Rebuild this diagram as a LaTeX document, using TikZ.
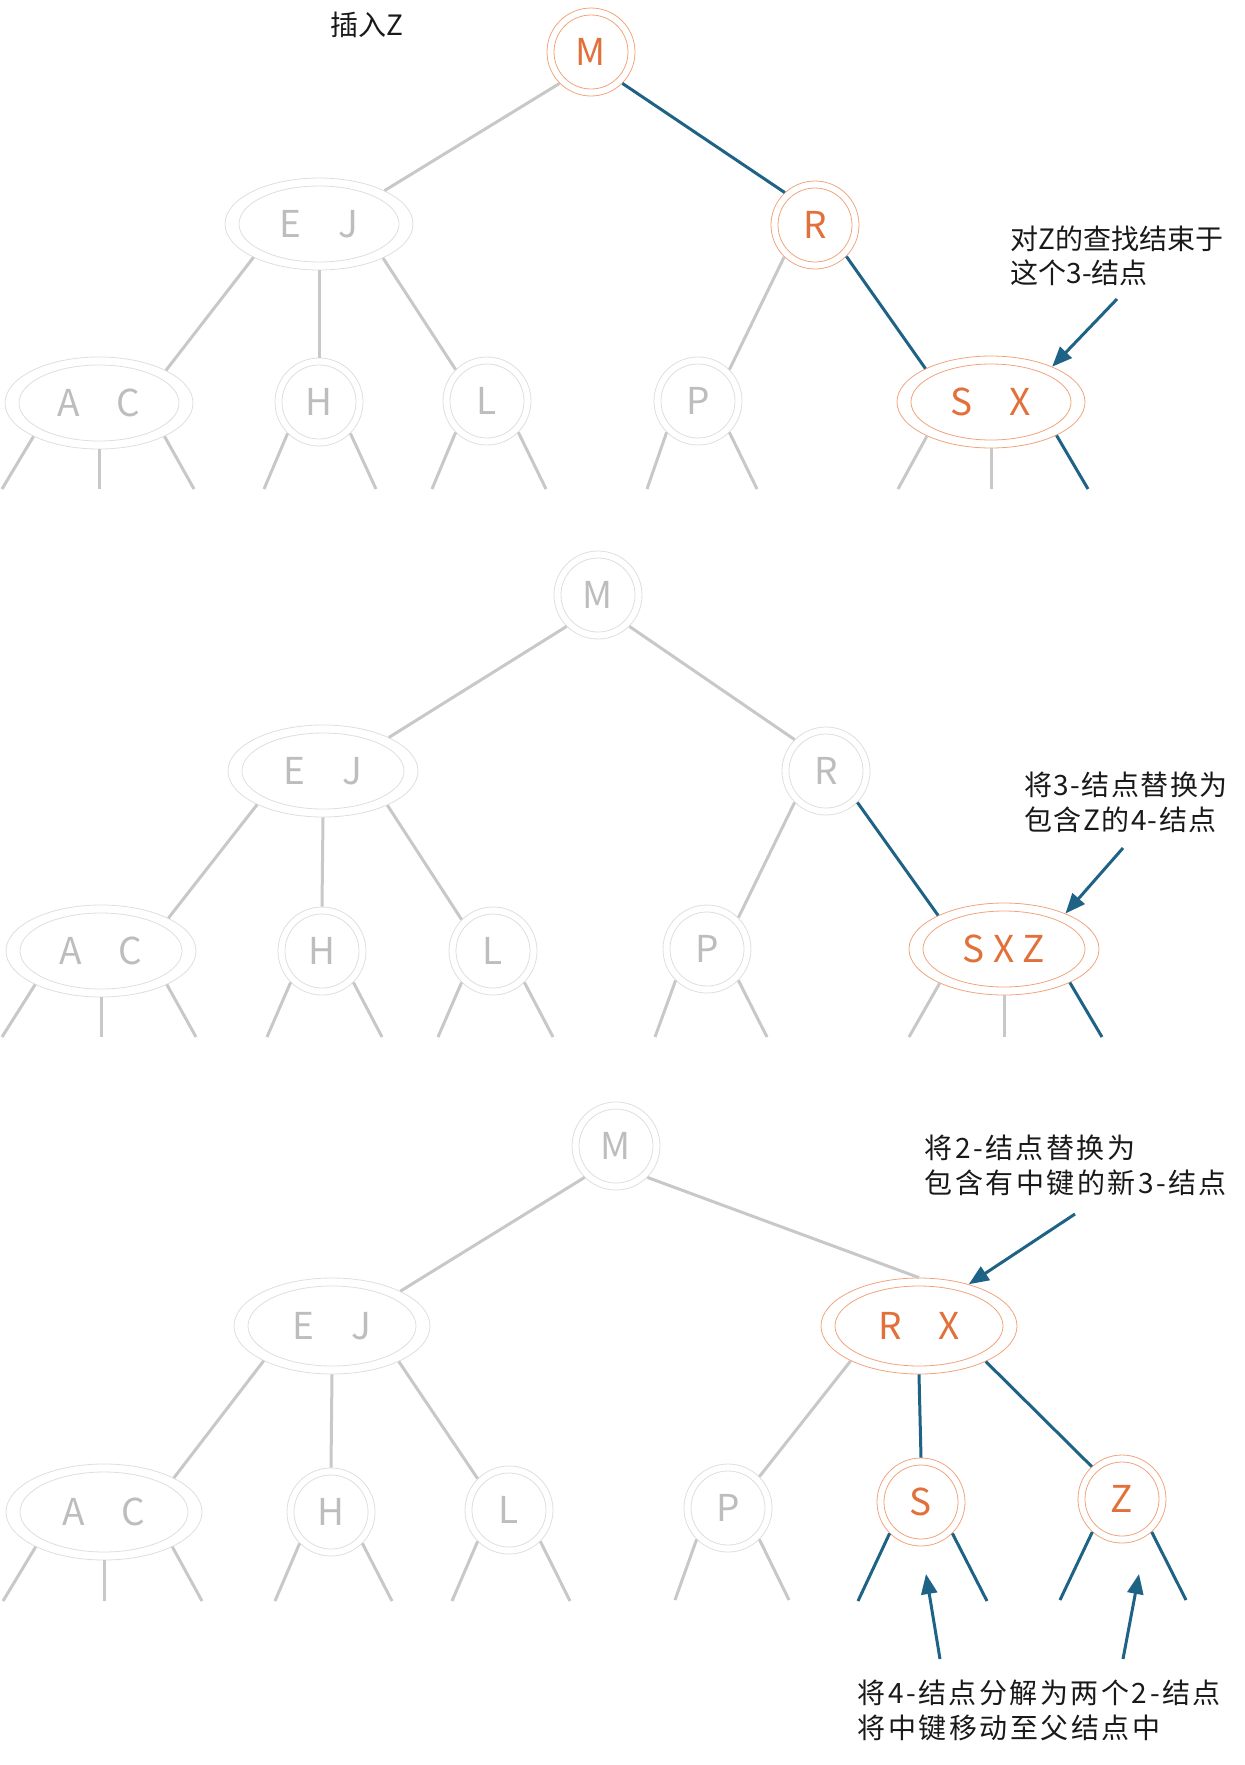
\documentclass[tikz,border=0pt]{standalone}
\usepackage{fontspec}
\setmainfont{Noto Sans CJK SC}
\usetikzlibrary{shapes.geometric,arrows.meta,calc}

\definecolor{orTxt}{HTML}{E2703A}
\definecolor{orLn}{HTML}{F0A47E}
\definecolor{gLn}{HTML}{DEDEDE}
\definecolor{gTxt}{HTML}{BDBDBD}
\definecolor{gEdge}{HTML}{C8C8C8}
\definecolor{blu}{HTML}{1E6385}

\tikzset{
 keyfont/.style={font=\fontsize{37}{37}\selectfont},
 gcirc/.style={circle, draw=gLn, line width=0.8pt, minimum size=88pt, inner sep=0pt, text=gTxt, keyfont},
 ocirc/.style={gcirc, draw=orLn, text=orTxt},
 gell/.style={ellipse, draw=gLn, line width=0.8pt, inner sep=0pt, text=gTxt, keyfont},
 oell/.style={gell, draw=orLn, text=orTxt},
 ginner/.style={draw=gLn, line width=0.8pt},
 oinner/.style={draw=orLn, line width=0.8pt},
 gedge/.style={draw=gEdge, line width=3pt},
 bedge/.style={draw=blu, line width=3pt},
 callout/.style={draw=blu, line width=3pt, -{Triangle[length=20pt,width=16pt]}},
 lbl/.style={align=left, anchor=west, text=black!90, font=\fontsize{28}{34}\selectfont},
 lblsp/.style={align=left, anchor=west, text=black!90, font=\fontsize{28}{35}\selectfont\addfontfeatures{LetterSpace=9}},
}

\newcommand\CircNode[4]{%
 \node[#1circ] (#2) at (#3) {#4};
 \draw[#1inner] (#2.center) circle[radius=37pt];}
\newcommand\EllNode[6]{%
 \node[#1ell, minimum width=2*#5pt, minimum height=2*#6pt] (#2) at (#3) {#4};
 \pgfmathsetmacro\ixr{#5-14}\pgfmathsetmacro\iyr{#6-8}
 \draw[#1inner] (#2.center) ellipse[x radius=\ixr pt, y radius=\iyr pt];}

\begin{document}
\begin{tikzpicture}[x=1pt,y=-1pt]
\useasboundingbox (0,0) rectangle (1245,1765);

% ---------------- Panel 1 ----------------
\node[lbl, anchor=center] (title) at (367,25) {插入Z};
\CircNode{o}{M1}{591,52}{M}
\EllNode{g}{EJ1}{319,224}{E\quad J}{94}{46}
\CircNode{o}{R1}{815,225}{R}
\EllNode{g}{AC1}{99,403}{A\quad C}{94}{46}
\CircNode{g}{H1}{319,402}{H}
\CircNode{g}{L1}{487,401}{L}
\CircNode{g}{P1}{698,401}{P}
\EllNode{o}{SX1}{991,402}{S\quad X}{94}{46}

\draw[gedge] (M1.225) -- (EJ1.27);
\draw[bedge] (M1.315) -- (R1.133);
\draw[gedge] (EJ1.207) -- (AC1.26);
\draw[gedge] (EJ1.south) -- (H1.north);
\draw[gedge] (EJ1.-28) -- (L1.135);
\draw[gedge] (R1.226) -- (P1.45);
\draw[bedge] (R1.315) -- (SX1.153);

\draw[gedge] (AC1.207) -- ($(AC1)+(-97,86)$);
\draw[gedge] (AC1.south) -- ($(AC1)+(0,86)$);
\draw[gedge] (AC1.-27) -- ($(AC1)+(95,86)$);
\draw[gedge] (H1.225) -- ($(H1)+(-55,87)$);
\draw[gedge] (H1.-45) -- ($(H1)+(57,87)$);
\draw[gedge] (L1.225) -- ($(L1)+(-55,88)$);
\draw[gedge] (L1.-45) -- ($(L1)+(59,88)$);
\draw[gedge] (P1.225) -- ($(P1)+(-51,88)$);
\draw[gedge] (P1.-45) -- ($(P1)+(59,88)$);
\draw[gedge] (SX1.208) -- ($(SX1)+(-93,87)$);
\draw[gedge] (SX1.south) -- ($(SX1)+(0,87)$);
\draw[bedge] (SX1.-27) -- ($(SX1)+(97,87)$);

\node[lbl] (lab1) at (1007,256) {对Z的查找结束于\\这个3-结点};
\coordinate (a1) at (1117,299);
\draw[callout] (a1) -- (SX1.30);

% ---------------- Panel 2 ----------------
\CircNode{g}{M2}{598,595}{M}
\EllNode{g}{EJ2}{323,771}{E\quad J}{95}{46}
\CircNode{g}{R2}{826,771}{R}
\EllNode{g}{AC2}{101,951}{A\quad C}{95}{46}
\CircNode{g}{H2}{322,951}{H}
\CircNode{g}{L2}{493,951}{L}
\CircNode{g}{P2}{707,949}{P}
\EllNode{o}{SXZ2}{1004,949}{S X Z}{95}{46}

\draw[gedge] (M2.225) -- (EJ2.27);
\draw[gedge] (M2.-45) -- (R2.135);
\draw[gedge] (EJ2.207) -- (AC2.26);
\draw[gedge] (EJ2.south) -- (H2.north);
\draw[gedge] (EJ2.-28) -- (L2.135);
\draw[gedge] (R2.225) -- (P2.45);
\draw[bedge] (R2.-45) -- (SXZ2.153);

\draw[gedge] (AC2.207) -- ($(AC2)+(-99,86)$);
\draw[gedge] (AC2.south) -- ($(AC2)+(0,86)$);
\draw[gedge] (AC2.-27) -- ($(AC2)+(95,86)$);
\draw[gedge] (H2.225) -- ($(H2)+(-55,86)$);
\draw[gedge] (H2.-45) -- ($(H2)+(60,86)$);
\draw[gedge] (L2.225) -- ($(L2)+(-55,86)$);
\draw[gedge] (L2.-45) -- ($(L2)+(60,86)$);
\draw[gedge] (P2.225) -- ($(P2)+(-52,88)$);
\draw[gedge] (P2.-45) -- ($(P2)+(60,88)$);
\draw[gedge] (SXZ2.208) -- ($(SXZ2)+(-95,88)$);
\draw[gedge] (SXZ2.south) -- ($(SXZ2)+(0,88)$);
\draw[bedge] (SXZ2.-27) -- ($(SXZ2)+(98,88)$);

\node[lbl, font=\fontsize{28}{35}\selectfont\addfontfeatures{LetterSpace=5}] (lab2) at (1021,802) {将3-结点替换为\\包含Z的4-结点};
\coordinate (a2) at (1123,848);
\draw[callout] (a2) -- (SXZ2.30);

% ---------------- Panel 3 ----------------
\CircNode{g}{M3}{616,1146}{M}
\EllNode{g}{EJ3}{332,1326}{E\quad J}{98}{48}
\EllNode{o}{RX3}{919,1326}{R\quad X}{98}{48}
\EllNode{g}{AC3}{104,1512}{A\quad C}{98}{48}
\CircNode{g}{H3}{331,1512}{H}
\CircNode{g}{L3}{509,1510}{L}
\CircNode{g}{P3}{728,1508}{P}
\CircNode{o}{S3}{921,1502}{S}
\CircNode{o}{Z3}{1122,1499}{Z}

\draw[gedge] (M3.225) -- (EJ3.27);
\draw[gedge] (M3.-45) -- (RX3.north);
\draw[gedge] (EJ3.207) -- (AC3.26);
\draw[gedge] (EJ3.south) -- (H3.north);
\draw[gedge] (EJ3.-28) -- (L3.135);
\draw[gedge] (RX3.207) -- (P3.45);
\draw[bedge] (RX3.south) -- (S3.north);
\draw[bedge] (RX3.-28) -- (Z3.133);

\draw[gedge] (AC3.207) -- ($(AC3)+(-101,89)$);
\draw[gedge] (AC3.south) -- ($(AC3)+(0,89)$);
\draw[gedge] (AC3.-27) -- ($(AC3)+(98,89)$);
\draw[gedge] (H3.225) -- ($(H3)+(-56,89)$);
\draw[gedge] (H3.-45) -- ($(H3)+(61,89)$);
\draw[gedge] (L3.225) -- ($(L3)+(-57,91)$);
\draw[gedge] (L3.-45) -- ($(L3)+(61,91)$);
\draw[gedge] (P3.225) -- ($(P3)+(-53,92)$);
\draw[gedge] (P3.-45) -- ($(P3)+(61,92)$);
\draw[bedge] (S3.225) -- ($(S3)+(-63,99)$);
\draw[bedge] (S3.-45) -- ($(S3)+(66,99)$);
\draw[bedge] (Z3.228) -- ($(Z3)+(-62,101)$);
\draw[bedge] (Z3.-48) -- ($(Z3)+(64,101)$);

\node[lblsp] (lab3) at (921,1165) {将2-结点替换为\\包含有中键的新3-结点};
\coordinate (a3) at (1075,1214);
\draw[callout] (a3) -- (RX3.40);

\node[lblsp] (lab4) at (854,1710) {将4-结点分解为两个2-结点\\将中键移动至父结点中};
\coordinate (a4s) at (940,1659);
\coordinate (a4e) at (926,1574);
\coordinate (a5s) at (1123,1659);
\coordinate (a5e) at (1139,1574);
\draw[callout] (a4s) -- (a4e);
\draw[callout] (a5s) -- (a5e);
\end{tikzpicture}
\end{document}
